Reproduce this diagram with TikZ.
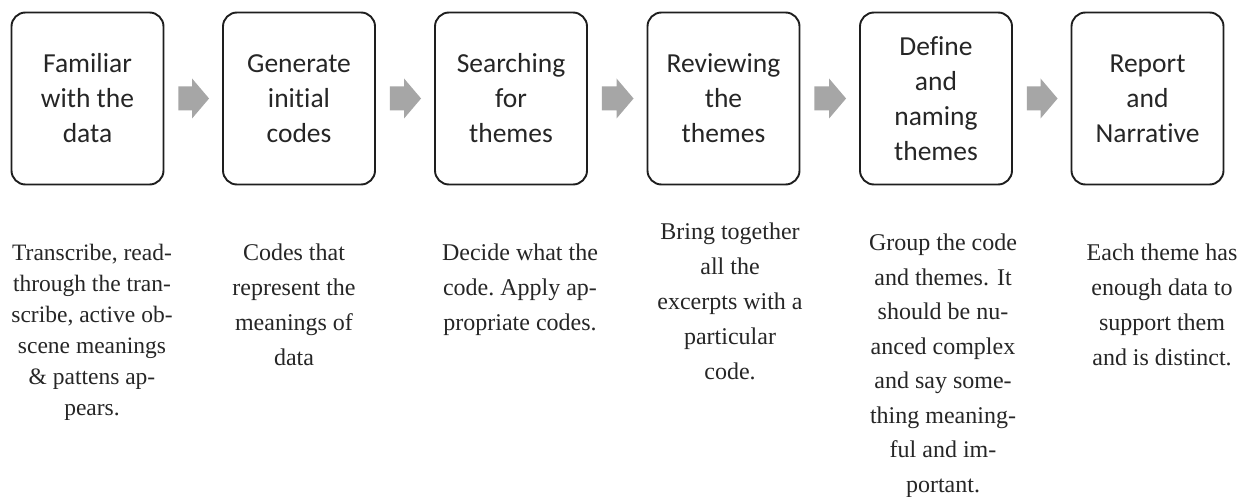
\documentclass[tikz,border=0pt]{standalone}
\usepackage{fontspec}
\setmainfont{Liberation Serif}
\newfontfamily\boxfont[Ligatures=NoCommon]{Carlito}
\usetikzlibrary{calc}
\definecolor{boxline}{HTML}{1E1E1E}
\definecolor{arrowfill}{HTML}{A6A6A6}
\definecolor{txt}{HTML}{262626}
\tikzset{
  stagebox/.style={draw=boxline, line width=1.9pt, rounded corners=14pt,
    minimum width=152pt, minimum height=172pt, inner sep=0pt, align=center,
    text=txt, font={\boxfont\fontsize{27.5}{35}\selectfont}},
  desc/.style={anchor=north, inner sep=0pt, align=center, text=txt,
    font={\fontsize{24}{35}\selectfont}},
  arrowshape/.style={fill=arrowfill, draw=none}
}
\newcommand{\blockarrow}[2]{%
  \fill[arrowshape] ($(#1.east)+(14,12)$) -- ($(#2.west)+(-30,12)$) --
    ($(#2.west)+(-30,20)$) -- ($(#2.west)+(-13,0)$) --
    ($(#2.west)+(-30,-20)$) -- ($(#2.west)+(-30,-12)$) --
    ($(#1.east)+(14,-12)$) -- cycle;}
\begin{document}
\begin{tikzpicture}[x=1pt,y=1pt]
\useasboundingbox[fill=white] (0,0) rectangle (1246,-497);
\node[stagebox] (b1) at (87.5,-98.5) {Familiar\\with the\\data};
\node[stagebox] (b2) at (299,-98.5) {Generate\\initial\\codes};
\node[stagebox] (b3) at (511,-98.5) {Searching\\for\\themes};
\node[stagebox] (b4) at (723.5,-98.5) {Reviewing\\the\\themes};
\node[stagebox] (b5) at (936,-98.5) {Define\\and\\naming\\themes};
\node[stagebox] (b6) at (1147.5,-98.5) {Report\\and\\Narrative};
\blockarrow{b1}{b2}
\blockarrow{b2}{b3}
\blockarrow{b3}{b4}
\blockarrow{b4}{b5}
\blockarrow{b5}{b6}
\node[desc, font={\fontsize{23.5}{31}\selectfont}] (d1) at (92,-244) {Transcribe, read-\\through the tran-\\scribe, active ob-\\scene meanings\\\& pattens ap-\\pears.};
\node[desc] (d2) at (294,-244) {Codes that\\represent the\\meanings of\\data};
\node[desc] (d3) at (520,-244) {Decide what the\\code.\ Apply ap-\\propriate codes.};
\node[desc] (d4) at (730,-223) {Bring together\\all the\\excerpts with a\\particular\\code.};
\node[desc, font={\fontsize{24}{34.5}\selectfont}] (d5) at (943,-234) {Group the code\\and themes. It\\should be nu-\\anced complex\\and say some-\\thing meaning-\\ful and im-\\portant.};
\node[desc] (d6) at (1162,-244) {Each theme has\\enough data to\\support them\\and is distinct.};
\end{tikzpicture}
\end{document}
